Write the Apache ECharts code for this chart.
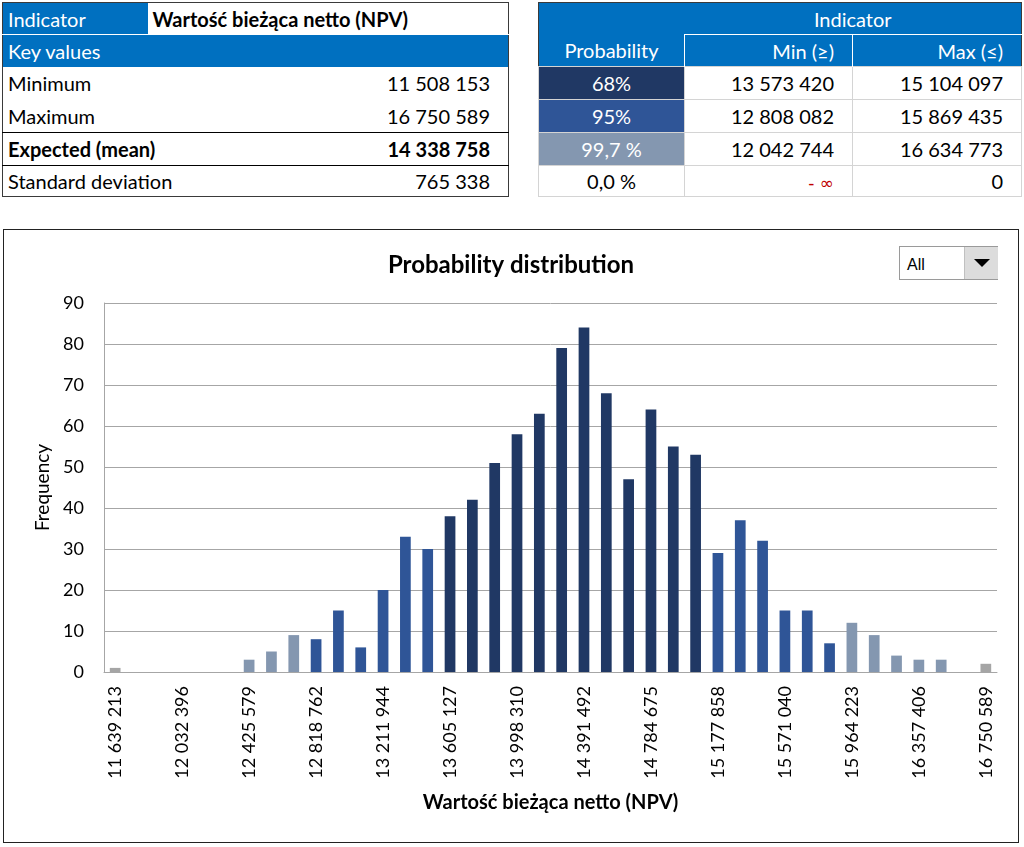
<!DOCTYPE html>
<html><head><meta charset="utf-8">
<script src="https://cdn.jsdelivr.net/npm/echarts@6/dist/echarts.min.js"></script>
<style>
body{margin:0;background:#fff;font-family:Lato,'Open Sans',sans-serif;width:1024px;height:847px;overflow:hidden;position:relative;}
.t{position:absolute;border-collapse:collapse;font-size:20px;color:#000;table-layout:fixed;border:1px solid #3a3a3a;}
.t td{padding:0;white-space:nowrap;}
.hd{background:#0070C0;color:#fff;}
.l{text-align:left;padding-left:5px !important;overflow:visible;}
.r{text-align:right;padding-right:18px !important;}
.c{text-align:center;}
.b{font-weight:bold;}
#chartbox{position:absolute;left:3px;top:229px;width:1014px;height:612px;border:1px solid #222;}
#chart{width:1014px;height:612px;}
#dd{position:absolute;left:899px;top:246px;width:97px;height:32px;border:1px solid #9a9a9a;background:#fff;font-family:'Liberation Sans',Arial,sans-serif;font-size:16px;}
#dd .txt{position:absolute;left:7px;top:9px;}
#dd .btn{position:absolute;left:64px;top:0;width:33px;height:32px;background:#dcdcdc;border-left:1px solid #c0c0c0;}
#dd .tri{position:absolute;left:9px;top:12px;width:0;height:0;border-left:8px solid transparent;border-right:8px solid transparent;border-top:8px solid #000;}
.g td{border:1px solid #d4d4d4;}
</style>
</head><body>
<table class="t" id="left" style="left:2px;top:2px;width:506px;"></table>
<table class="t g" id="right" style="left:538px;top:2px;width:483px;"></table>
<div id="chartbox"><div id="chart"></div></div>
<div id="dd"><span class="txt">All</span><div class="btn"><div class="tri"></div></div></div>
<script>
// ---- data ----
const indicatorName = 'Wartość bieżąca netto (NPV)';
const keyLabels = ['Minimum', 'Maximum', 'Expected (mean)', 'Standard deviation'];
const keyValues = [11508153, 16750589, 14338758, 765338];
const probLabels = ['68%', '95%', '99,7 %', '0,0 %'];
const rangeMin = [13573420, 12808082, 12042744, null]; // null = -infinity
const rangeMax = [15104097, 15869435, 16634773, 0];
const tickLabels = ['11 639 213', '12 032 396', '12 425 579', '12 818 762', '13 211 944', '13 605 127', '13 998 310',
  '14 391 492', '14 784 675', '15 177 858', '15 571 040', '15 964 223', '16 357 406', '16 750 589'];
const frequency = [1, 0, 0, 0, 0, 0, 3, 5, 9, 8, 15, 6, 20, 33, 30, 38, 42, 51, 58, 63, 79, 84, 68, 47, 64, 55, 53,
  29, 37, 32, 15, 15, 7, 12, 9, 4, 3, 3, 0, 2];

const fmt = n => String(n).replace(/\B(?=(\d{3})+(?!\d))/g, ' ');
const bandColors = ['#203864', '#2F5597', '#8497B0'];
const outColor = '#A5A5A5';

// ---- tables ----
const rowH = [32, 32, 33, 33, 33, 31];
let L = '<colgroup><col style="width:145px"><col style="width:361px"></colgroup>';
L += `<tr style="height:${rowH[0]}px"><td class="hd l">Indicator</td><td class="l b" style="padding-left:8px">${indicatorName}</td></tr>`;
L += `<tr style="height:${rowH[1]}px;border-top:1px solid #fff"><td class="hd l" colspan="2">Key values</td></tr>`;
keyLabels.forEach((k, i) => {
  const bold = i === 2 ? ' b' : '';
  const bt = i >= 2 ? 'border-top:1px solid #000;' : '';
  L += `<tr style="height:${rowH[i + 2]}px;${bt}"><td class="l${bold}">${k}</td><td class="r${bold}">${fmt(keyValues[i])}</td></tr>`;
});
document.getElementById('left').innerHTML = L;

let R = '<colgroup><col style="width:146px"><col style="width:168px"><col style="width:169px"></colgroup>';
R += `<tr style="height:${rowH[0]}px"><td class="hd" style="border:none"></td><td class="hd c" colspan="2" style="border:none;border-bottom:1px solid #fff">Indicator</td></tr>`;
R += `<tr style="height:${rowH[1]}px"><td class="hd c" style="border:none;border-right:1px solid #fff">Probability</td><td class="hd r" style="border:none;border-right:1px solid #fff">Min (≥)</td><td class="hd r" style="border:none">Max (≤)</td></tr>`;
probLabels.forEach((p, i) => {
  const bg = i < 3 ? `background:${bandColors[i]};color:#fff;` : '';
  const mn = rangeMin[i] === null ? '<span style="color:#c00000;font-size:17px;font-family:\'DejaVu Sans\',sans-serif">- ∞</span>' : fmt(rangeMin[i]);
  R += `<tr style="height:${rowH[i + 2]}px"><td class="c" style="${bg}">${p}</td><td class="r">${mn}</td><td class="r">${fmt(rangeMax[i])}</td></tr>`;
});
document.getElementById('right').innerHTML = R;

// ---- chart ----
const binW = (keyValues[1] - keyValues[0]) / frequency.length;
function colorFor(i) {
  const edge = keyValues[0] + (i + 1) * binW;
  for (let b = 0; b < 3; b++) {
    if (edge >= rangeMin[b] - 1 && edge <= rangeMax[b] + 1) return bandColors[b];
  }
  return outColor;
}
const cats = frequency.map((_, i) => String(i));
const chart = echarts.init(document.getElementById('chart'), null, { renderer: 'canvas' });
const font = 'Lato, "Open Sans", sans-serif';
chart.setOption({
  animation: false,
  textStyle: { fontFamily: font },
  title: {
    text: 'Probability distribution', left: 'center', top: 18,
    textStyle: { fontFamily: font, fontSize: 24, fontWeight: 'bold', color: '#000' }
  },
  grid: { left: 100, right: 21, top: 73, bottom: 170, containLabel: false },
  xAxis: {
    type: 'category', data: cats,
    name: 'Wartość bieżąca netto (NPV)', nameLocation: 'middle', nameGap: 121,
    nameTextStyle: { fontFamily: font, fontSize: 20, fontWeight: 'bold', color: '#000' },
    axisLine: { lineStyle: { color: '#a6a6a6', width: 1 } },
    axisTick: { show: false },
    axisLabel: {
      interval: 2, rotate: 90, margin: 14, color: '#000', fontSize: 18, fontFamily: font,
      formatter: (v) => tickLabels[Number(v) / 3] || ''
    }
  },
  yAxis: {
    type: 'value', min: 0, max: 90, interval: 10,
    name: 'Frequency', nameLocation: 'middle', nameGap: 49, nameRotate: 90,
    nameTextStyle: { fontFamily: font, fontSize: 19, color: '#000' },
    axisLine: { show: true, lineStyle: { color: '#a6a6a6' } },
    axisTick: { show: false },
    axisLabel: { color: '#000', fontSize: 18, margin: 20, fontFamily: font },
    splitLine: { lineStyle: { color: '#a6a6a6', width: 1 } }
  },
  series: [{
    type: 'bar', barWidth: '48%',
    data: frequency.map((v, i) => ({ value: v, itemStyle: { color: colorFor(i) } }))
  }]
});
</script>
</body></html>
